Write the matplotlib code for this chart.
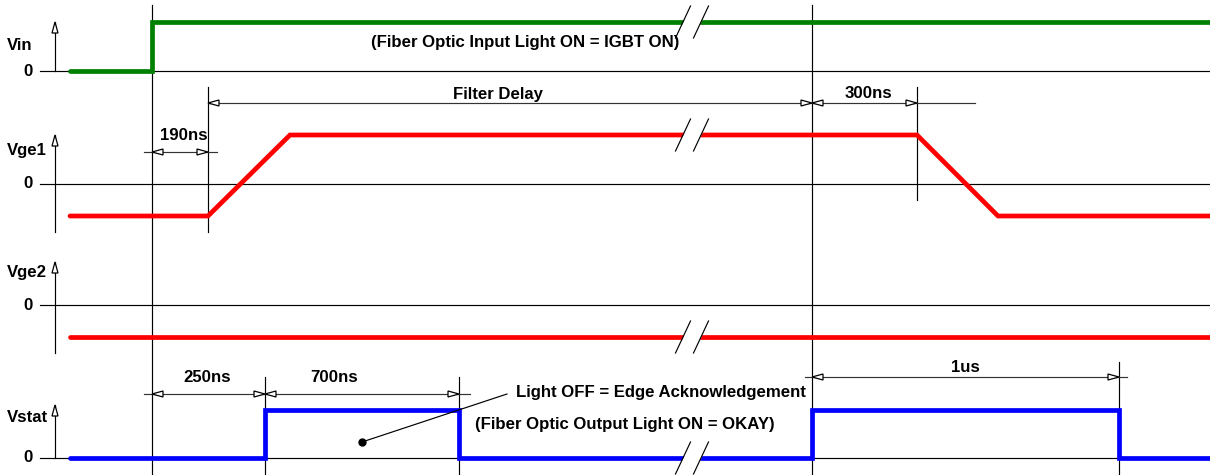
import matplotlib.pyplot as plt
from matplotlib.patches import Polygon

plt.rcParams['font.family'] = ['Liberation Sans', 'DejaVu Sans']
plt.rcParams['font.weight'] = 'bold'

# rows of the timing diagram, zero level of each row (px from top)
rows = ['Vin', 'Vge1', 'Vge2', 'Vstat']
row_zero = [71, 184, 305, 458]
row_label_y = [45, 151, 272, 418]
row_colors = ['#008000', '#ff0000', '#ff0000', '#0000ff']

# waveforms: time (px) and level above the row's zero (px)
vin_t = [70, 152, 152, 1210]
vin_v = [0, 0, 49, 49]
vge1_t = [70, 208, 290, 917, 998, 1210]
vge1_v = [-32, -32, 49, 49, -32, -32]
vge2_t = [70, 1210]
vge2_v = [-32, -32]
vstat_t = [70, 265, 265, 459, 459, 812, 812, 1119, 1119, 1210]
vstat_v = [0, 0, 48, 48, 0, 0, 48, 48, 0, 0]
waves = [(vin_t, vin_v), (vge1_t, vge1_v), (vge2_t, vge2_v), (vstat_t, vstat_v)]

# time break (//) and the level where it cuts each waveform
break_x = 692
break_level = [49, 49, -32, 0]

# vertical marker lines: x, top, bottom
markers_x = [152, 812, 208, 917, 265, 459, 1119]
markers_top = [5, 5, 87, 87, 377, 377, 362]
markers_bot = [475, 475, 232, 200, 475, 475, 475]

# vertical axis arrows at the left: tip y, bottom y
axis_tip = [22, 135, 262, 405]
axis_bot = [71, 232, 353, 458]

# dimension lines: y, line start, line end
dim_y = [152, 103, 394, 377]
dim_x0 = [144, 208, 144, 805]
dim_x1 = [217, 975, 470, 1127]
# dimension arrows: tip x, y, direction (+1 right, -1 left)
arr_x = [152, 208, 208, 812, 812, 917, 152, 265, 265, 459, 812, 1119]
arr_y = [152, 152, 103, 103, 103, 103, 394, 394, 394, 394, 377, 377]
arr_d = [-1, 1, -1, 1, -1, 1, -1, 1, -1, 1, -1, 1]
dim_labels = ['190ns', 'Filter Delay', '300ns', '250ns', '700ns', '1us']
dim_lx = [184, 498, 868, 207, 334, 965]
dim_ly = [135, 94, 94, 378, 378, 368]

FS = 12.1

fig = plt.figure(figsize=(12.1, 4.75), dpi=100)
ax = fig.add_axes([0, 0, 1, 1])
ax.set_xlim(0, 1210)
ax.set_ylim(475, 0)
ax.axis('off')

thin = 0.85


def head(x, y, dx, dy):
    # hollow arrow head, tip at (x, y), pointing along (dx, dy)
    L, w = 11, 3
    bx, by = x - dx * L, y - dy * L
    pts = [(x, y), (bx - dy * w, by - dx * w), (bx + dy * w, by + dx * w)]
    ax.add_patch(Polygon(pts, closed=True, facecolor='white', edgecolor='black',
                         lw=0.9, zorder=6))


for i, name in enumerate(rows):
    z = row_zero[i]
    ax.plot([40, 1210], [z, z], color='black', lw=thin, zorder=2)
    ax.text(7, row_label_y[i], name, ha='left', va='center', fontsize=FS,
            fontweight='bold')
    ax.text(33, z, '0', ha='right', va='center', fontsize=FS, fontweight='bold')
    ax.plot([55, 55], [axis_tip[i], axis_bot[i]], color='black', lw=thin, zorder=2)
    head(55, axis_tip[i], 0, -1)

    t, v = waves[i]
    ax.plot(t, [z - a for a in v], color=row_colors[i], lw=3.4,
            solid_joinstyle='miter', solid_capstyle='round', zorder=4)

    # break marks
    yb = z - break_level[i]
    gap = Polygon([(683 - 7, yb + 16), (683 + 8, yb - 16), (701 + 8, yb - 16), (701 - 7, yb + 16)],
                  closed=True, facecolor='white', edgecolor='none', zorder=5)
    ax.add_patch(gap)
    for sx in [break_x - 9, break_x + 9]:
        ax.plot([sx - 7.5, sx + 7.5], [yb + 16, yb - 16], color='black', lw=thin, zorder=6)

for x, t0, b in zip(markers_x, markers_top, markers_bot):
    ax.plot([x, x], [t0, b], color='black', lw=thin, zorder=3)

for y, x0, x1 in zip(dim_y, dim_x0, dim_x1):
    ax.plot([x0, x1], [y, y], color='#333333', lw=thin, zorder=3)
for x, y, d in zip(arr_x, arr_y, arr_d):
    head(x, y, d, 0)
for s, x, y in zip(dim_labels, dim_lx, dim_ly):
    ax.text(x, y, s, ha='center', va='center', fontsize=FS, fontweight='bold')

ax.text(525, 43, '(Fiber Optic Input Light ON = IGBT ON)', ha='center', va='center',
        fontsize=FS, fontweight='bold', zorder=7)
ax.text(516, 392, 'Light OFF = Edge Acknowledgement', ha='left', va='center',
        fontsize=FS, fontweight='bold')
ax.text(475, 425, '(Fiber Optic Output Light ON = OKAY)', ha='left', va='center',
        fontsize=FS, fontweight='bold')
ax.plot([362, 507], [442, 394], color='black', lw=thin, zorder=6)
ax.plot([362], [442], 'o', color='black', ms=5, zorder=6)

fig.savefig('out.png', dpi=100)
